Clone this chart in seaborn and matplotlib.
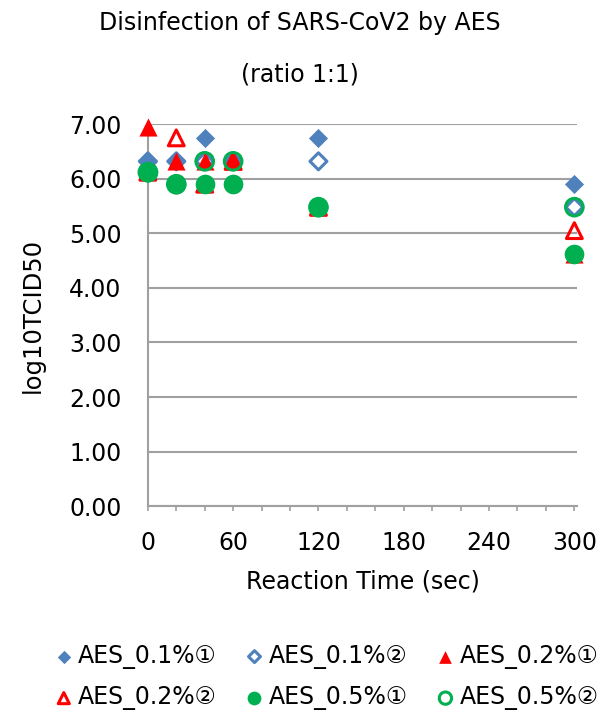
import matplotlib
matplotlib.use("Agg")
import numpy as np
import pandas as pd
import seaborn as sns
from matplotlib import pyplot as plt
from matplotlib.ticker import FormatStrFormatter, MultipleLocator

# reaction time (sec) and log10TCID50 per series
times = [0, 20, 40, 60, 120, 300]
aes01_1 = [6.32, 6.32, 6.75, 6.32, 6.75, 5.90]
aes01_2 = [6.32, 6.32, 6.32, 6.32, 6.32, 5.48]
aes02_1 = [6.95, 6.32, 6.32, 6.32, 5.48, 4.63]
aes02_2 = [6.12, 6.75, 5.90, 6.32, 5.48, 5.05]
aes05_1 = [6.12, 5.90, 5.90, 5.90, 5.48, 4.63]
aes05_2 = [6.12, 5.90, 6.32, 6.32, 5.48, 5.48]

labels = ["AES_0.1%①", "AES_0.1%②", "AES_0.2%①",
          "AES_0.2%②", "AES_0.5%①", "AES_0.5%②"]
x_ticks = [0, 60, 120, 180, 240, 300]

sns.set_style("white")
plt.rcParams["font.family"] = ["DejaVu Sans", "Noto Sans CJK JP"]
plt.rcParams["text.color"] = "black"

blue = "#4F81BD"
red = "#FF0000"
green = "#00B050"
grey = "#A0A0A0"

series = [
    (aes01_1, "D", blue, True, 95),
    (aes01_2, "D", blue, False, 75),
    (aes02_1, "^", red, True, 170),
    (aes02_2, "^", red, False, 130),
    (aes05_1, "o", green, True, 200),
    (aes05_2, "o", green, False, 160),
]

fig = plt.figure(figsize=(6.16, 7.18), dpi=100)
ax = fig.add_axes([0.240, 0.295, 0.697, 0.532])

for (vals, mk, col, filled, size), lab in zip(series, labels):
    df = pd.DataFrame({"t": times, "v": vals})
    sns.scatterplot(data=df, x="t", y="v", ax=ax, marker=mk, s=size,
                    color=col if filled else "none", edgecolor=col,
                    linewidth=0 if filled else 2.2, label=lab,
                    zorder=3, clip_on=False)

ax.set_xlim(0, 302)
ax.set_ylim(0, 7)
ax.set_xticks(x_ticks)
ax.xaxis.set_minor_locator(MultipleLocator(20))
ax.set_yticks(np.arange(0, 8, 1))
ax.yaxis.set_major_formatter(FormatStrFormatter("%.2f"))
ax.yaxis.grid(True, color=grey, linewidth=1.5, zorder=0)
ax.set_axisbelow(True)
ax.tick_params(axis="both", labelsize=17, labelcolor="black")
ax.tick_params(axis="y", length=0, pad=19)
ax.tick_params(axis="x", which="both", direction="out", length=3.6,
               width=1.2, color=grey, bottom=True)
ax.tick_params(axis="x", which="major", pad=14)
for side in ["top", "right"]:
    ax.spines[side].set_visible(False)
for side in ["left", "bottom"]:
    ax.spines[side].set_color(grey)
    ax.spines[side].set_linewidth(1.5)

ax.set_xlabel("Reaction Time (sec)", fontsize=17, labelpad=11, color="black")
ax.set_ylabel("log10TCID50", fontsize=17.5, labelpad=17, color="black")

fig.text(0.487, 0.968, "Disinfection of SARS-CoV2 by AES", ha="center",
         va="center", fontsize=17)
fig.text(0.487, 0.896, "(ratio 1:1)", ha="center", va="center", fontsize=17)

handles, labs = ax.get_legend_handles_labels()
ax.get_legend().remove()
order = [0, 3, 1, 4, 2, 5]
fig.legend([handles[i] for i in order], [labs[i] for i in order],
           loc="center", bbox_to_anchor=(0.53, 0.057), ncol=3, frameon=False,
           fontsize=17, handletextpad=0.2, columnspacing=1.2,
           labelspacing=0.7, markerscale=0.7, handlelength=0.8,
           borderpad=0.2)

fig.savefig("out.png", dpi=100)
